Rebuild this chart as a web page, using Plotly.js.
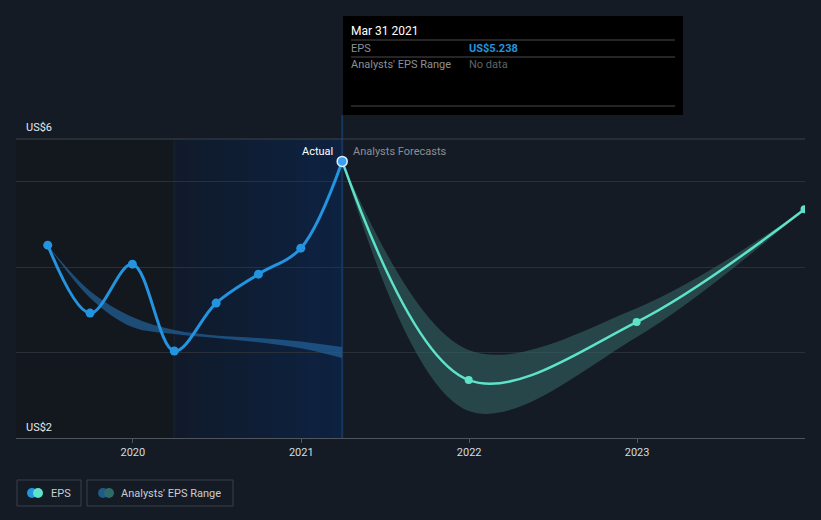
<!DOCTYPE html>
<html>
<head>
<meta charset="utf-8">
<script src="https://cdn.plot.ly/plotly-3.0.1.min.js"></script>
<style>
html,body{margin:0;padding:0;background:#151b25;}
#chart{width:821px;height:520px;}
</style>
</head>
<body>
<div id="chart"></div>
<script>
// ---- data ----
const epsDates = ['2019-06-30','2019-09-30','2019-12-31','2020-03-31','2020-06-30','2020-09-30','2020-12-31','2021-03-31'];
const epsValues = [4.257, 3.462, 4.035, 3.018, 3.579, 3.918, 4.222, 5.238];

const forecastDates = ['2021-03-31','2021-12-31','2022-12-31','2023-12-31'];
const forecastValues = [5.238, 2.678, 3.357, 4.678];
const forecastHigh = [5.238, 3.03, 3.52, 4.678];
const forecastLow = [5.238, 2.316, 3.18, 4.678];

const pastRangeDates = ['2019-06-30','2019-09-30','2019-12-31','2020-03-31','2020-06-30','2020-09-30','2020-12-31','2021-03-31'];
const pastRangeHigh = [4.257, 3.72, 3.415, 3.263, 3.20, 3.17, 3.13, 3.064];
const pastRangeLow = [4.257, 3.64, 3.298, 3.216, 3.17, 3.12, 3.05, 2.936];

const yearTicks = ['2020-01-01','2021-01-01','2022-01-01','2023-01-01'];
const yearLabels = ['2020','2021','2022','2023'];

const tooltipDate = 'Mar 31 2021';
const tooltipEps = 'US$5.238';

// ---- geometry helpers (pixel -> paper) ----
const L = 16, R = 805, T = 139, B = 438;
const px = x => (x - L) / (R - L);
const py = y => (B - y) / (B - T);

const FONT = 'Roboto, "Open Sans", sans-serif';

const traces = [
  {x: pastRangeDates, y: pastRangeHigh, mode: 'lines', line: {width: 0, shape: 'spline', color: '#1f4f7a'}, hoverinfo: 'skip'},
  {x: pastRangeDates, y: pastRangeLow, mode: 'lines', fill: 'tonexty', fillcolor: 'rgba(33,95,150,0.75)', line: {width: 0, shape: 'spline', color: '#1f4f7a'}, hoverinfo: 'skip'},
  {x: forecastDates, y: forecastHigh, mode: 'lines', line: {width: 0, shape: 'spline', color: '#2a4a4e'}, hoverinfo: 'skip'},
  {x: forecastDates, y: forecastLow, mode: 'lines', fill: 'tonexty', fillcolor: 'rgba(52,105,105,0.55)', line: {width: 0, shape: 'spline', color: '#2a4a4e'}, hoverinfo: 'skip'},
  {x: epsDates, y: epsValues, mode: 'lines+markers', line: {color: '#2394df', width: 3, shape: 'spline'}, marker: {size: 9, color: '#2394df'}},
  {x: forecastDates, y: forecastValues, mode: 'lines+markers', line: {color: '#5ee3c9', width: 2.5, shape: 'spline'}, marker: {size: 8, color: '#5ee3c9'}},
  {x: [epsDates[epsDates.length - 1]], y: [epsValues[epsValues.length - 1]], mode: 'markers', marker: {size: 10, color: '#3a9fee', line: {color: '#dfefff', width: 1.5}}}
];

const shapes = [
  // past dark region
  {type: 'rect', xref: 'paper', yref: 'paper', x0: 0, x1: px(175), y0: 0, y1: 1, fillcolor: '#13171e', line: {width: 0}, layer: 'below'}
];
// last-year blue region drawn as a left-to-right gradient
const gradSteps = 14, gx0 = 175, gx1 = 343;
const cA = [16, 26, 42], cB = [13, 34, 66];
for (let i = 0; i < gradSteps; i++) {
  const t = (i + 0.5) / gradSteps;
  const c = cA.map((v, k) => Math.round(v + (cB[k] - v) * t));
  shapes.push({type: 'rect', xref: 'paper', yref: 'paper',
    x0: px(gx0 + (gx1 - gx0) * i / gradSteps), x1: px(gx0 + (gx1 - gx0) * (i + 1) / gradSteps) + 0.0005,
    y0: 0, y1: 1, fillcolor: 'rgb(' + c.join(',') + ')', line: {width: 0}, layer: 'below'});
}
shapes.push(
  {type: 'line', xref: 'x', yref: 'paper', x0: '2020-03-31', x1: '2020-03-31', y0: 0, y1: 1, line: {color: '#141f30', width: 2}, layer: 'below'},
  // vertical line at actual
  {type: 'line', xref: 'x', yref: 'paper', x0: '2021-03-31', x1: '2021-03-31', y0: 0, y1: py(115), line: {color: '#15375e', width: 2}, layer: 'below'},
  // top line
  {type: 'line', xref: 'paper', yref: 'paper', x0: 0, x1: 1, y0: 1, y1: 1, line: {color: '#3d434c', width: 1}, layer: 'below'},
  // tooltip
  {type: 'rect', xref: 'paper', yref: 'paper', x0: px(343), x1: px(683), y0: py(115), y1: py(16), fillcolor: '#000000', line: {width: 0}},
  {type: 'line', xref: 'paper', yref: 'paper', x0: px(351), x1: px(675), y0: py(40), y1: py(40), line: {color: '#4a4a4a', width: 1}},
  {type: 'line', xref: 'paper', yref: 'paper', x0: px(351), x1: px(675), y0: py(57), y1: py(57), line: {color: '#4a4a4a', width: 1}},
  {type: 'line', xref: 'paper', yref: 'paper', x0: px(351), x1: px(675), y0: py(106), y1: py(106), line: {color: '#4a4a4a', width: 1}},
  // legend boxes
  {type: 'rect', xref: 'paper', yref: 'paper', x0: px(17), x1: px(81), y0: py(506), y1: py(480), fillcolor: 'rgba(0,0,0,0)', line: {color: '#3a4049', width: 1}},
  {type: 'rect', xref: 'paper', yref: 'paper', x0: px(87), x1: px(233), y0: py(506), y1: py(480), fillcolor: 'rgba(0,0,0,0)', line: {color: '#3a4049', width: 1}},
  {type: 'circle', xref: 'paper', yref: 'paper', x0: px(27), x1: px(37), y0: py(498), y1: py(488), fillcolor: '#2394df', line: {width: 0}},
  {type: 'circle', xref: 'paper', yref: 'paper', x0: px(33), x1: px(43), y0: py(498), y1: py(488), fillcolor: '#5ee3c9', line: {width: 0}},
  {type: 'circle', xref: 'paper', yref: 'paper', x0: px(98), x1: px(108), y0: py(498), y1: py(488), fillcolor: '#1e5b8a', line: {width: 0}},
  {type: 'circle', xref: 'paper', yref: 'paper', x0: px(104), x1: px(114), y0: py(498), y1: py(488), fillcolor: '#2e6a6a', line: {width: 0}}
);

const ann = (text, x, y, opts) => Object.assign({text, xref: 'paper', yref: 'paper', x: px(x), y: py(y), showarrow: false, xanchor: 'left', yanchor: 'middle', font: {family: FONT, size: 11, color: '#e6e8ea'}}, opts || {});

const annotations = [
  ann('US$6', 24, 127),
  ann('US$2', 24, 427),
  ann('Actual', 335, 151, {xanchor: 'right', font: {family: FONT, size: 11, color: '#ffffff'}}),
  ann('Analysts Forecasts', 351, 151, {font: {family: FONT, size: 11, color: '#8a8f96'}}),
  ann(tooltipDate, 349, 31, {font: {family: FONT, size: 12, color: '#ffffff'}}),
  ann('EPS', 349, 48, {font: {family: FONT, size: 11, color: '#8c9096'}}),
  ann('<b>' + tooltipEps + '</b>', 467, 48, {font: {family: FONT, size: 11, color: '#2394df'}}),
  ann("Analysts' EPS Range", 349, 65, {font: {family: FONT, size: 11, color: '#8c9096'}}),
  ann('No data', 467, 65, {font: {family: FONT, size: 11, color: '#5f6368'}}),
  ann('EPS', 49, 493, {font: {family: FONT, size: 11, color: '#c8cdd3'}}),
  ann("Analysts' EPS Range", 119, 493, {font: {family: FONT, size: 11, color: '#c8cdd3'}})
];

const layout = {
  width: 821, height: 520,
  margin: {l: L, r: 821 - R, t: T, b: 520 - B},
  paper_bgcolor: '#151b25',
  plot_bgcolor: '#151b25',
  showlegend: false,
  hovermode: false,
  xaxis: {
    type: 'date',
    range: ['2019-04-22', '2024-01-01'],
    tickvals: yearTicks, ticktext: yearLabels,
    showgrid: false, zeroline: false,
    showline: true, linecolor: '#4f555d', linewidth: 1,
    ticks: 'outside', ticklen: 4, tickcolor: '#4f555d',
    tickfont: {family: FONT, size: 11, color: '#d8dbde'}
  },
  yaxis: {
    range: [2, 5.5],
    tickvals: [3, 4, 5],
    showticklabels: false,
    showgrid: true, gridcolor: '#2a3039', gridwidth: 1,
    zeroline: false, showline: false
  },
  shapes, annotations
};

Plotly.newPlot('chart', traces, layout, {displayModeBar: false, staticPlot: true});
</script>
</body>
</html>
